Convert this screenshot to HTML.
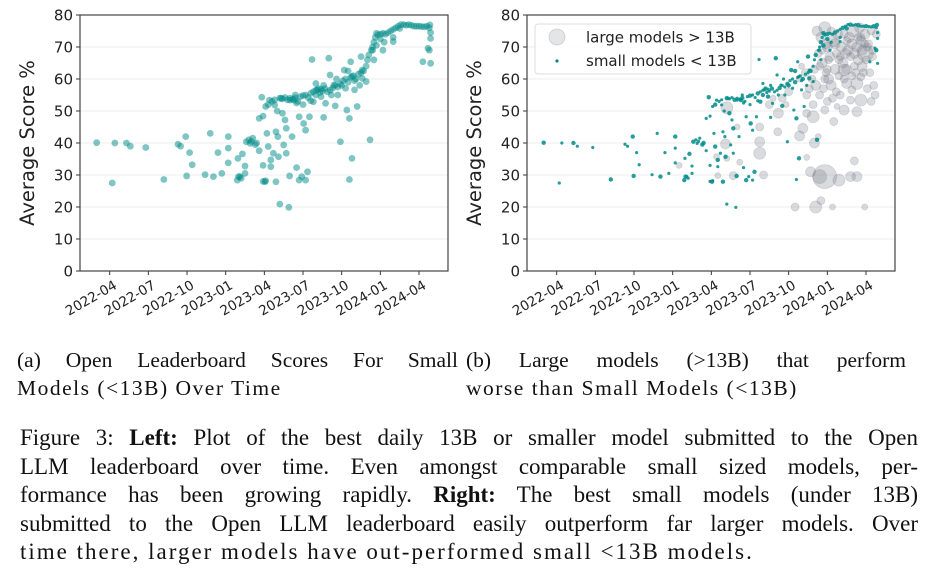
<!DOCTYPE html>
<html><head><meta charset="utf-8"><style>
body{margin:0;background:#fff;width:926px;height:586px;overflow:hidden;position:relative;font-family:"Liberation Serif",serif;color:#111}
svg{position:absolute;left:0;top:0}
.cap{position:absolute;font-size:21.5px;line-height:28px;text-align:justify;text-align-last:left}
.j{text-align:justify;text-align-last:justify;display:block}
.ls{letter-spacing:1.5px;white-space:nowrap}
#fig{position:absolute;left:20px;top:424px;width:898px;font-size:23px;line-height:28.6px}
#fig div{white-space:nowrap;letter-spacing:2px}
</style></head><body>
<svg id="chart" width="926" height="340"></svg>
<div class="cap" style="left:17px;top:346px;width:441px"><span class="j">(a) Open Leaderboard Scores For Small</span><span class="ls">Models (&lt;13B) Over Time</span></div>
<div class="cap" style="left:466px;top:346px;width:440px"><span class="j">(b) Large models (&gt;13B) that perform</span><span class="ls">worse than Small Models (&lt;13B)</span></div>
<div id="fig">
<span class="j">Figure 3: <b>Left:</b> Plot of the best daily 13B or smaller model submitted to the Open</span>
<span class="j">LLM leaderboard over time. Even amongst comparable small sized models, per-</span>
<span class="j">formance has been growing rapidly. <b>Right:</b> The best small models (under 13B)</span>
<span class="j">submitted to the Open LLM leaderboard easily outperform far larger models. Over</span>
<div>time there, larger models have out-performed small &lt;13B models.</div>
</div>
<script>
// months since 2022-01 and scores
const smallMonths=[1.99,3.2,3.4,4.3,4.6,5.8,7.2,8.3,8.5,8.9,9.2,9.4,8.97,10.4,10.8,11.05,11.4,11.7,12.2,12.2,12.2,12.9,12.95,13.1,13.3,13.5,13.5,13.6,13.9,14.1,14.4,14.6,14.6,14.8,14.9,14.9,15.05,15.1,15.2,15.3,15.4,15.5,15.5,15.7,15.8,15.9,15.9,16.05,16.1,16.2,16.3,16.4,16.5,16.6,16.7,16.7,16.9,16.96,17,17.15,17.3,17.4,17.5,17.7,17.7,17.9,18.05,18.2,18.2,18.35,18.5,18.7,18.8,19,19.1,19.4,19.6,19.75,20,20.1,20.4,20.5,20.7,20.9,21.2,21.3,21.4,21.6,21.6,21.7,21.8,22,22.2,22.5,22.6,22.9,23.2,23.4,23.5,23.7,24.2,25,25.5,27.3,27.7,27.8,27.9,27.9,27.85,
15.6,15.8,16.2,16.4,16.6,16.8,17,17.2,17.4,17.6,17.8,18,18.2,18.4,18.6,18.8,19,19.2,19.3,19.5,19.7,19.9,20.1,20.3,20.5,20.7,20.9,21.1,21.3,21.5,21.7,21.9,22.1,22.3,22.5,22.7,22.9,23.0,23.1,23.3,23.4,23.5,23.6,23.8,24,24.2,24.4,24.6,24.8,25,25.2,25.4,25.6,25.8,26,26.2,26.4,26.6,26.8,27,27.2,27.4,27.6,27.8,27.9,19.0,19.6,20.2,21.0,22.0,22.4,21.5,18.0,17.5,15.3,16.0,14.0,14.3,13.8,13.2,13.0,15.1,14.9,24.0,24.3,25.0,23.7,20.6,21.8,22.6,19.4,18.6];
const smallScores=[40.1,27.5,40,40,39,38.6,28.6,39.6,39,42,37,33.2,29.7,30.1,43,29.5,37,30.5,42,38.4,33.8,28.4,35.2,29.5,36.6,32.8,30.5,40.4,39.9,41.5,40,37.6,47.7,54.3,48.4,33,27.9,51.4,43,38.9,53.4,32.6,34.7,36.8,51.9,27.9,43.5,42,35.7,20.9,54,49.3,39.4,47.2,44.6,36.8,19.9,29.7,53.4,42,53.4,55,32.3,28.4,48.2,29.5,46.1,44,28.4,31,48.2,66.1,52.9,58.6,56.6,54.5,48,52.4,66.5,61.25,58.1,51.6,55,40.4,62.8,57.1,50.3,47.7,28.6,65.4,35.2,56.6,51.4,67,62.8,59.2,41,69,66,74.3,69,71.7,75.8,65.4,69.6,69,72.7,64.9,76.9,
53,53.5,54,53.8,54.2,53.5,54,53.7,54.1,53,54.5,54.8,55,54.2,55.5,56,56.5,57,55.8,56.2,57,56,56.5,57.2,58,57.5,58.5,59.5,60,59,60.5,61,60,61.5,62,62.5,64,66,67.5,69,70,71.5,73,73.8,74,74.3,74,74.5,75,75.5,76,76.5,77,77,76.8,77,76.8,76.5,76.5,76.5,76.4,76.3,76.5,76,74.5,55,58,55,58,59.5,58,62.5,52,52.5,52,50,40.5,39.5,41,29,29.5,28.2,28,72.5,71.5,73,70.5,60,60.8,60.2,56.8,53.2];
const largeMonths=[18.75,18.75,18.75,19.05,20.2,20.15,16.2,16.1,15.4,15.5,16.7,17.2,16.2,17,12.5,21.5,23.1,23.5,24.4,26.9,23.8,23.4,22.7,24.9,25.8,26.3,26.1,22.4,23,21.85,23.3,22.1,24.5,22.9,22.4,23.8,25.3,26.3,26.6,25.8,24.75,26.95,26.7,26.3,25.3,25.5,25.9,26.6,
23.2,23.5,23.8,24.0,24.2,24.5,24.8,25.1,25.4,25.7,26.0,26.3,26.6,26.9,27.2,27.5,27.8,23.3,23.6,23.9,24.1,24.3,24.6,24.9,25.2,25.5,25.8,26.1,26.4,26.7,27.0,27.3,27.6,23.0,22.8,22.6,22.4,22.9,23.4,23.7,24.0,24.4,23.1,24.7,25.0,25.3,26.8,27.1,27.4,27.7,23.9,24.7,25.9,26.5,27.4,22.3,22.0,21.8,21.0,20.5,19.8,19.5,20.8,
23.6,24.1,24.6,25.0,25.5,26.1,26.6,27.1,23.4,24.0,24.9,25.6,26.2,26.9,27.5,24.3,25.3,26.4,23.8,25.9];
const largeScores=[45,40.4,36.8,30,49.3,43.5,51,39.7,35.7,29.8,29.8,34,35.2,45,33,20,20,22,20,20,29.5,29.5,31,28.4,29.5,29.5,34.4,35.5,40,42.2,42,44.6,46.7,48.2,49.3,50.3,50.3,49.8,53.4,53.4,51.4,68,63.9,58.6,62.8,58.6,56.6,60.7,
75,73,76,70,67,72,74,70,68,73,75,70,72,74,71,69,74,68,65,62,60,58,63,61,65,63,67,64,66,69,66,62,58,63,60,57,55,52,55,57,53,54,58,56,55,60,62,57,53,55,71,68,71,76,75,62,64,60,56,54,54,52,52,
69,66,71,67,72,68,73,70,64,63,66,69,62,71,67,75,74,73,60,61];
const largeSizes=[4,5,6,4,5,4,6,5,3,3,4,3,3,3,3,4,6,4,3,3,12,7,5,6,5,5,4,3,5,5,3,5,4,6,4,4,5,5,6,4,3,8,5,6,6,5,4,4,
5,5,6,5,5,6,5,5,5,5,6,5,5,5,4,4,4,4,5,4,5,5,5,4,5,5,4,4,5,5,4,4,4,4,4,4,4,4,4,4,4,4,5,4,4,4,4,4,4,4,5,4,5,5,4,4,3,3,4,4,3,4,3,
4,4,5,4,4,5,4,4,4,4,4,5,4,4,4,4,4,4,4,4];
const yTicks=[0,10,20,30,40,50,60,70,80];
const xTickLabels=["2022-04","2022-07","2022-10","2023-01","2023-04","2023-07","2023-10","2024-01","2024-04"];
const xTickMonths=[3,6,9,12,15,18,21,24,27];

const NS="http://www.w3.org/2000/svg",svg=document.getElementById('chart');
function mk(t,a,p){const e=document.createElementNS(NS,t);for(const k in a)e.setAttribute(k,a[k]);(p||svg).appendChild(e);return e;}
function panel(x0,x1,name){
  const top=15,bot=271,mA=0.696,mB=29.25;
  const X=m=>x0+(m-mA)/(mB-mA)*(x1-x0), Y=v=>bot-(v/80)*(bot-top);
  const g=mk('g',{});
  
  
  yTicks.forEach(v=>{
    const l=mk('line',{x1:x0,x2:x1,y1:Y(v),y2:Y(v),stroke:'#ececec','stroke-width':1},g);
    
    
    mk('line',{x1:x0-4,x2:x0,y1:Y(v),y2:Y(v),stroke:'#333'},g);
    const t=mk('text',{x:x0-7,y:Y(v)+5.5,'text-anchor':'end','font-size':15,'font-family':'DejaVu Sans, sans-serif',fill:'#222'},g);
    t.textContent=v;
    
    
  });
  xTickMonths.forEach((m,i)=>{
    mk('line',{x1:X(m),x2:X(m),y1:bot,y2:bot+4,stroke:'#333'},g);
    const t=mk('text',{transform:`translate(${X(m)+3},${bot+8}) rotate(-30)`,'text-anchor':'end',dy:'0.75em','font-size':13.5,'font-family':'DejaVu Sans, sans-serif',fill:'#222'},g);
    t.textContent=xTickLabels[i];
    
    
  });
  const yl=mk('text',{transform:`translate(${x0-46},${(top+bot)/2}) rotate(-90)`,'text-anchor':'middle','font-size':19.5,'font-family':'DejaVu Sans, sans-serif',fill:'#222'},g);
  yl.textContent='Average Score %';
  
  
  return {g,X,Y,x0,x1,top,bot};
}
function frame(p){const r=mk('rect',{x:p.x0,y:p.top,width:p.x1-p.x0,height:p.bot-p.top,fill:'none',stroke:'#444','stroke-width':1.2},p.g);
  
  }

const L=panel(80,448,'left-chart');
smallMonths.forEach((m,i)=>{
  const c=mk('circle',{cx:L.X(m),cy:L.Y(smallScores[i]),r:3.4,fill:'rgba(0,140,136,0.5)'},L.g);
  
  
});
frame(L);

const R=panel(527,895,'right-chart');
largeMonths.forEach((m,i)=>{
  const c=mk('circle',{cx:R.X(m),cy:R.Y(largeScores[i]),r:largeSizes[i],fill:'rgba(120,125,135,0.28)',stroke:'rgba(120,125,135,0.25)','stroke-width':0.8},R.g);
  
  
});
smallMonths.forEach((m,i)=>{
  const c=mk('circle',{cx:R.X(m),cy:R.Y(smallScores[i]),r:(i%3===0?2.2:1.6),fill:'rgba(0,140,136,0.85)'},R.g);
  
  
});
frame(R);
const lg=mk('g',{},R.g);


mk('rect',{x:535,y:24,width:216,height:50,rx:3,fill:'rgba(255,255,255,0.85)',stroke:'#ddd'},lg);
mk('circle',{cx:557,cy:37,r:8,fill:'rgba(130,135,145,0.22)',stroke:'rgba(120,125,135,0.25)'},lg);
mk('circle',{cx:557,cy:61,r:1.6,fill:'rgb(0,140,136)'},lg);
const t1=mk('text',{x:586,y:42.5,'font-size':15,'font-family':'DejaVu Sans, sans-serif',fill:'#222'},lg);t1.textContent='large models > 13B';


const t2=mk('text',{x:586,y:66,'font-size':15,'font-family':'DejaVu Sans, sans-serif',fill:'#222'},lg);t2.textContent='small models < 13B';


</script>
</body></html>
